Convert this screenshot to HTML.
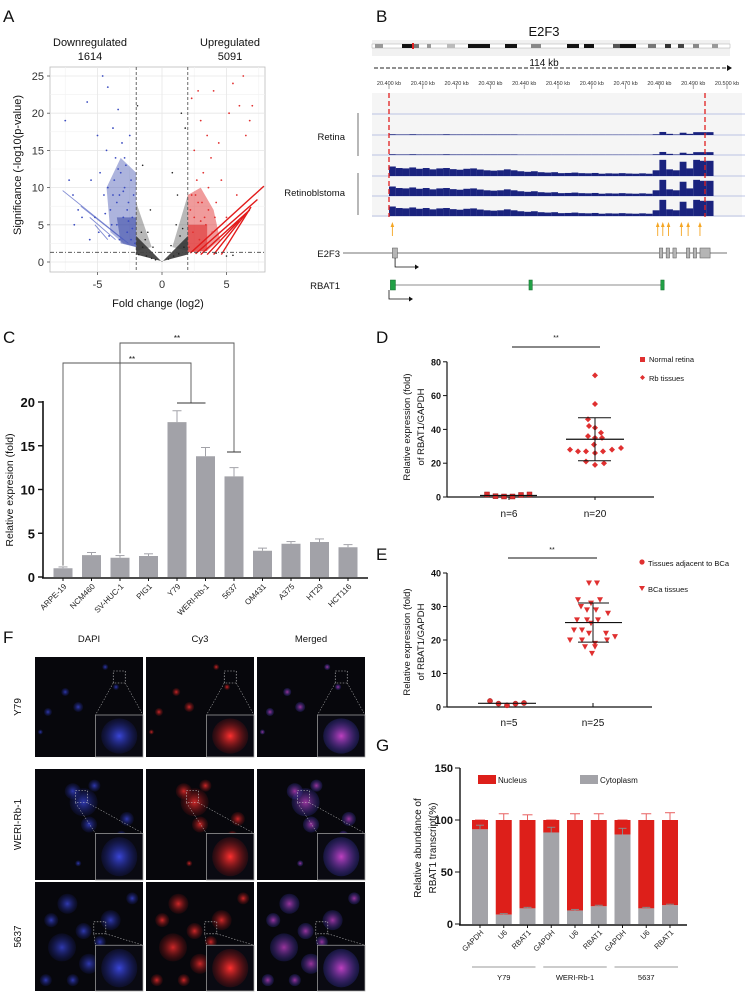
<!DOCTYPE html>
<html><head><meta charset="utf-8"><style>
html,body{margin:0;padding:0;background:#fff;}
svg{display:block;font-family:"Liberation Sans",Arial,sans-serif;}
</style></head><body>
<svg id="fig" width="745" height="992" viewBox="0 0 745 992" xmlns="http://www.w3.org/2000/svg">
<defs>
<radialGradient id="gb"><stop offset="0" stop-color="#3a46d8"/><stop offset="1" stop-color="#1a2280" stop-opacity="0.2"/></radialGradient>
<radialGradient id="gr"><stop offset="0" stop-color="#ff3030"/><stop offset="1" stop-color="#801010" stop-opacity="0.2"/></radialGradient>
<radialGradient id="gm"><stop offset="0" stop-color="#c040c0"/><stop offset="1" stop-color="#3030a0" stop-opacity="0.3"/></radialGradient>
</defs>
</svg>
<script>
// ---------- DATA ----------
// Panel A volcano
const volDown = [[-7.5,19],[-7.2,11],[-6.9,9],[-6.5,7],[-6.2,6],[-5.8,21.5],[-5.5,11],[-5.2,6],[-5,17],[-4.8,12],[-4.6,25],[-4.5,9],[-4.3,15],[-4.2,23.5],[-4,7],[-3.8,18],[-3.7,11],[-3.6,14],[-3.5,5],[-3.4,20.5],[-3.3,9],[-3.2,12],[-3.1,16],[-3,6],[-2.9,10],[-2.8,13],[-2.7,4],[-2.6,8],[-2.5,17],[-2.4,3],[-2.3,6],[-2.2,9],[-2.1,2.5],[-4.9,4],[-4.1,3.5],[-3.9,5],[-5.6,3],[-6.8,5],[-4.4,6.5],[-3.3,3],[-3.5,8],[-3.0,9.5],[-2.7,7],[-2.4,11],[-3.8,9],[-4.2,10],[-2.9,14],[-3.4,12.5],[-2.3,4.5],[-2.6,5.5]];
const volUp = [[2.1,2],[2.3,22],[2.5,15],[2.6,9],[2.8,23],[3,19],[3.2,12],[3.3,6],[3.5,17],[3.6,10],[3.8,14],[4,23],[4.2,8],[4.4,16],[4.6,11],[5,6],[5.2,20],[5.5,24],[5.8,9],[6,21],[6.3,25],[6.5,17],[6.8,19],[7,21],[2.4,4],[2.9,3],[3.4,5],[3.9,4],[2.2,7],[2.7,11],[3.1,8],[4.5,4],[2.5,6],[3.0,5.5],[3.6,7],[2.3,9],[2.8,8],[4.1,6]];
const volNs = [[-1.8,1],[-1.5,2],[-1.2,0.8],[-0.8,0.5],[-0.5,0.3],[0.5,0.4],[0.9,0.8],[1.3,1.1],[1.7,2],[1.5,20],[0.8,12],[1.2,9],[-1.5,13],[-0.9,7],[1.8,18],[-1.9,21],[1.1,5],[-1.1,4],[5,0.8],[5.5,0.9],[4.2,1.2],[-1.6,4],[-1.3,3],[1.4,3.5],[1.6,4.5],[-0.7,2],[0.7,2.2]];
const upStreaks = [[2.2,1.2,7.9,10.2],[2.6,1.1,7.4,8.4],[3,1,6.8,7],[3.5,1,6,5.6],[4,1,6.5,6.5],[4.6,1,6.9,7.4]];
const downStreaks = [[-2.6,2.5,-7.7,9.6],[-3,3,-6.3,7.5],[-3.6,3,-5.6,6],[-4.2,3,-5.2,5]];
const volXTicks = [-5,0,5];
const volYTicks = [0,5,10,15,20,25];

// Panel B coverage (relative height, 2-kb bins starting 20.400 kb)
const rbCov = [0.5,0.42,0.4,0.45,0.38,0.42,0.35,0.4,0.42,0.36,0.33,0.38,0.4,0.34,0.3,0.28,0.3,0.35,0.3,0.25,0.22,0.25,0.2,0.18,0.2,0.15,0.16,0.18,0.15,0.14,0.16,0.12,0.14,0.13,0.15,0.13,0.12,0.14,0.12,0.3,0.85,0.35,0.3,0.75,0.4,0.85,0.8,0.8];
const retCov = [0.04,0.03,0.03,0.04,0.03,0.03,0.03,0.03,0.04,0.03,0.03,0.03,0.03,0.03,0.03,0.03,0.03,0.03,0.03,0.02,0.02,0.02,0.02,0.02,0.02,0.02,0.02,0.02,0.02,0.02,0.02,0.02,0.02,0.02,0.02,0.02,0.02,0.02,0.02,0.04,0.16,0.06,0.03,0.12,0.06,0.15,0.15,0.15];
const kbTicks = [20400,20410,20420,20430,20440,20450,20460,20470,20480,20490,20500];
const e2f3Exons = [[20401,1.5],[20480,1],[20482,1],[20484,1],[20488,1],[20490,1],[20492,3]];
const rbat1Exons = [[20401,1.5],[20442,1],[20481,1]];
const arrowsKb = [20401,20479.5,20481,20482.7,20486.5,20488.5,20492];

// Panel C
const cCats = ["ARPE-19","NCM460","SV-HUC-1","PIG1","Y79","WERI-Rb-1","5637","OM431","A375","HT29","HCT116"];
const cVals = [1.0,2.5,2.2,2.4,17.7,13.8,11.5,3.0,3.8,4.0,3.4];
const cErr = [0.15,0.3,0.25,0.25,1.3,1.0,1.0,0.3,0.25,0.35,0.3];
const cTicks = [0,5,10,15,20];

// Panel D
const dNormal = [1.5,0.5,0.3,0.3,1.2,1.5];
const dRb = [72,55,46,41,42,38,36,35,35,31,28,27,27,26,27,28,29,21,20,19];
const dTicks = [0,20,40,60,80];

// Panel E
const eAdj = [1.8,1.0,0.5,1.0,1.2];
const eBCa = [37,37,32,31,32,30,29,29,28,26,26,26,25,23,22,22,23,20,20,21,20,19,18,18,16];
const eTicks = [0,10,20,30,40];

// Panel G
const gCats = ["GAPDH","U6","RBAT1","GAPDH","U6","RBAT1","GAPDH","U6","RBAT1"];
const gCyto = [91,9,15,88,13,17,86,15,18];
const gTop = [100,106,105,100,106,106,100,106,107];
const gCytoErr = [4,1,1,5,1,1,6,1,1];
const gGroups = ["Y79","WERI-Rb-1","5637"];
const gTicks = [0,50,100,150];

// ---------- HELPERS ----------
const NS='http://www.w3.org/2000/svg';
const svg=document.getElementById('fig');
function mk(tag,attrs,name,parent){
  const el=document.createElementNS(NS,tag);
  for(const k in attrs) el.setAttribute(k,attrs[k]);
  
  
  (parent||svg).appendChild(el);
  return el;
}
function txt(x,y,s,size,anchor,name,extra){
  const a={x:x,y:y,'font-size':size,'text-anchor':anchor||'start',fill:'#111'};
  if(extra) for(const k in extra) a[k]=extra[k];
  const el=mk('text',a,name);
  el.textContent=s;
  return el;
}
function ln(x1,y1,x2,y2,st,w,name,extra){
  const a={x1:x1,y1:y1,x2:x2,y2:y2,stroke:st,'stroke-width':w};
  if(extra) for(const k in extra) a[k]=extra[k];
  return mk('line',a,name);
}

// ---------- PANEL A ----------
const ax=v=>162+12.9*v, ay=v=>262-7.44*v;
txt(3,22,"A",17,'start','panel-label-a');
mk('rect',{x:50,y:67,width:215,height:205,fill:'#fff',stroke:'#bbb','stroke-width':0.8},'volcano-plot-area');
[-7.5,-2.5,2.5,7.5].forEach(v=>ln(ax(v),67,ax(v),272,'#f2f2f2',0.6,'volcano-minor-grid'));
[2.5,7.5,12.5,17.5,22.5].forEach(v=>ln(50,ay(v),265,ay(v),'#f2f2f2',0.6,'volcano-minor-grid'));
volXTicks.forEach(v=>{ln(ax(v),67,ax(v),272,'#e6e6e6',0.8,'volcano-grid-x');ln(ax(v),272,ax(v),275,'#555',0.8,'volcano-x-tick');txt(ax(v),288,String(v),11,'middle','volcano-x-tick-label',{fill:'#333'});});
volYTicks.forEach(v=>{ln(50,ay(v),265,ay(v),'#e6e6e6',0.8,'volcano-grid-y');ln(47,ay(v),50,ay(v),'#555',0.8,'volcano-y-tick');txt(44,ay(v)+4,String(v),11,'end','volcano-y-tick-label',{fill:'#333'});});
// density clouds
mk('polygon',{points:[[ax(-2),ay(3.5)],[ax(0),ay(0)],[ax(2),ay(3.5)],[ax(2),ay(1)],[ax(0),ay(0.1)],[ax(-2),ay(1)]].join(' '),fill:'#111',opacity:0.75},'ns-density');
mk('polygon',{points:[[ax(-2),ay(8)],[ax(-0.8),ay(2)],[ax(-2),ay(1.5)]].join(' '),fill:'#333',opacity:0.35},'ns-density-left');
mk('polygon',{points:[[ax(2),ay(9)],[ax(0.8),ay(2)],[ax(2),ay(1.5)]].join(' '),fill:'#333',opacity:0.35},'ns-density-right');
mk('polygon',{points:[[ax(-2),ay(2)],[ax(-2),ay(12)],[ax(-3.2),ay(14)],[ax(-4.3),ay(10)],[ax(-4),ay(4)],[ax(-3),ay(2.5)]].join(' '),fill:'#3344aa',opacity:0.4},'down-density');
mk('polygon',{points:[[ax(-2),ay(2)],[ax(-2),ay(6)],[ax(-3.5),ay(6)],[ax(-3.2),ay(2.5)]].join(' '),fill:'#2a3aa0',opacity:0.5},'down-density-core');
mk('polygon',{points:[[ax(2),ay(1.3)],[ax(2),ay(9)],[ax(3),ay(10)],[ax(4),ay(7)],[ax(4.5),ay(3)],[ax(3.5),ay(1.5)]].join(' '),fill:'#dd2222',opacity:0.45},'up-density');
mk('polygon',{points:[[ax(2),ay(1.3)],[ax(2),ay(5)],[ax(3.5),ay(5)],[ax(3.5),ay(1.5)]].join(' '),fill:'#dd2222',opacity:0.55},'up-density-core');
upStreaks.forEach(s=>ln(ax(s[0]),ay(s[1]),ax(s[2]),ay(s[3]),'#e21b1b',1.4,'up-streak'));
downStreaks.forEach(s=>ln(ax(s[0]),ay(s[1]),ax(s[2]),ay(s[3]),'#4a5ac0',0.9,'down-streak',{opacity:0.7}));
volDown.forEach(p=>mk('circle',{cx:ax(p[0]),cy:ay(p[1]),r:0.9,fill:'#3b4cc0'},'down-point'));
volUp.forEach(p=>mk('circle',{cx:ax(p[0]),cy:ay(p[1]),r:0.9,fill:'#e23030'},'up-point'));
volNs.forEach(p=>mk('circle',{cx:ax(p[0]),cy:ay(p[1]),r:0.8,fill:'#222'},'ns-point'));
ln(ax(-2),67,ax(-2),272,'#444',0.8,'fc-threshold-left',{'stroke-dasharray':'3,2'});
ln(ax(2),67,ax(2),272,'#444',0.8,'fc-threshold-right',{'stroke-dasharray':'3,2'});
ln(50,ay(1.3),265,ay(1.3),'#444',0.8,'p-threshold',{'stroke-dasharray':'4,2,1,2'});
txt(90,46,"Downregulated",11,'middle','downregulated-label');
txt(90,60,"1614",11,'middle','downregulated-count');
txt(230,46,"Upregulated",11,'middle','upregulated-label');
txt(230,60,"5091",11,'middle','upregulated-count');
txt(158,307,"Fold change (log2)",11,'middle','volcano-x-title');
txt(0,0,"Significance (-log10(p-value)",11,'middle','volcano-y-title',{transform:'translate(21,165) rotate(-90)'});

// ---------- PANEL B ----------
const bx=kb=>389+(kb-20400)*3.38;
txt(376,22,"B",17,'start','panel-label-b');
txt(544,36,"E2F3",13,'middle','locus-title');
mk('rect',{x:372,y:40,width:358,height:16,fill:'#f1f1f1'},'ideogram-bg');
mk('rect',{x:372,y:44,width:358,height:4,fill:'#fff',stroke:'#999','stroke-width':0.4},'ideogram');
[[375,8,'#999'],[402,12,'#111'],[413,6,'#777'],[427,4,'#999'],[447,8,'#bbb'],[468,14,'#111'],[482,8,'#111'],[505,12,'#111'],[531,10,'#888'],[567,12,'#111'],[584,10,'#111'],[613,10,'#555'],[620,16,'#111'],[648,8,'#777'],[665,6,'#333'],[678,6,'#444'],[693,6,'#888'],[712,6,'#999']].forEach(b=>mk('rect',{x:b[0],y:44,width:b[1],height:4,fill:b[2]},'ideogram-band'));
mk('rect',{x:412,y:43,width:2,height:6,fill:'#e02020'},'ideogram-position');
txt(544,66,"114 kb",10,'middle','span-label');
ln(374,68,727,68,'#222',1,'span-line',{'stroke-dasharray':'4,2'});
mk('polygon',{points:'727,65 732,68 727,71',fill:'#111'},'span-arrow');
kbTicks.forEach(k=>{ln(bx(k),85,bx(k),89,'#666',0.6,'kb-tick');txt(bx(k),85,(k/1000).toFixed(3)+" kb",5.5,'middle','kb-tick-label',{fill:'#333'});});
mk('rect',{x:372,y:93,width:370,height:124,fill:'#f5f5f5'},'track-area');
const trackBase=[114,135,155,176,196,216];
const trackCov=[null,retCov,retCov,rbCov,rbCov,rbCov];
trackBase.forEach((yb,t)=>{
  ln(372,yb,745,yb,'#8090d0',0.6,'track-baseline');
  const cov=trackCov[t];
  if(cov){cov.forEach((v,i)=>{const h=v*19;mk('rect',{x:bx(20400+i*2),y:yb-h,width:6.8,height:h,fill:'#1a237e'},'coverage-bar');});}
});
ln(389,93,389,217,'#e02020',1.3,'boundary-left',{'stroke-dasharray':'5,3'});
ln(705,93,705,217,'#e02020',1.3,'boundary-right',{'stroke-dasharray':'5,3'});
txt(345,140,"Retina",9.5,'end','retina-label');
ln(358,113,358,156,'#333',0.7,'retina-bracket');
txt(345,196,"Retinoblstoma",9.5,'end','retinoblastoma-label');
ln(358,173,358,215,'#333',0.7,'retinoblastoma-bracket');
arrowsKb.forEach(k=>{ln(bx(k),236,bx(k),226,'#f5a623',0.9,'peak-arrow');mk('polygon',{points:`${bx(k)-1.8},227 ${bx(k)},222 ${bx(k)+1.8},227`,fill:'#f5a623'},'peak-arrowhead');});
txt(340,257,"E2F3",9.5,'end','e2f3-label');
ln(343,253,727,253,'#444',0.8,'e2f3-gene-line');
e2f3Exons.forEach(e=>mk('rect',{x:bx(e[0]),y:248,width:e[1]*3.38,height:10,fill:'#b5b5b5',stroke:'#555','stroke-width':0.5},'e2f3-exon'));
mk('polyline',{points:`${bx(20401.8)},258 ${bx(20401.8)},267 415,267`,fill:'none',stroke:'#111','stroke-width':0.8},'e2f3-tss-arrow');
mk('polygon',{points:'415,264.5 419,267 415,269.5',fill:'#111'},'e2f3-tss-head');
txt(340,289,"RBAT1",9.5,'end','rbat1-label');
ln(391,285,bx(20481.5),285,'#666',0.8,'rbat1-gene-line');
rbat1Exons.forEach(e=>mk('rect',{x:bx(e[0])-2,y:280,width:e[1]*3.38,height:10,fill:'#22a046',stroke:'#146b2c','stroke-width':0.5},'rbat1-exon'));
mk('polyline',{points:'389,290 389,299 409,299',fill:'none',stroke:'#111','stroke-width':0.8},'rbat1-tss-arrow');
mk('polygon',{points:'409,296.5 413,299 409,301.5',fill:'#111'},'rbat1-tss-head');

// ---------- PANEL C ----------
const cx=i=>63+28.5*i, cy=v=>577-8.75*v;
txt(3,343,"C",17,'start','panel-label-c');
ln(43,cy(20)-1,43,578,'#111',1.6,'c-y-axis');
ln(42,578,368,578,'#111',1.6,'c-x-axis');
cTicks.forEach(v=>{ln(38,cy(v),43,cy(v),'#111',1.4,'c-y-tick');txt(35,cy(v)+5,String(v),13,'end','c-y-tick-label',{'font-weight':'bold'});});
cCats.forEach((c,i)=>{
  mk('rect',{x:cx(i)-9.5,y:cy(cVals[i]),width:19,height:577-cy(cVals[i]),fill:'#a2a2a8'},'bar-'+c.toLowerCase());
  ln(cx(i),cy(cVals[i]),cx(i),cy(cVals[i]+cErr[i]),'#a2a2a8',1,'c-error-bar');
  ln(cx(i)-4.5,cy(cVals[i]+cErr[i]),cx(i)+4.5,cy(cVals[i]+cErr[i]),'#a2a2a8',1,'c-error-cap');
  ln(cx(i),578,cx(i),581,'#111',1,'c-x-tick');
  txt(0,0,c,8,'end','c-x-label',{transform:`translate(${cx(i)+4},${587}) rotate(-45)`,fill:'#222'});
});
mk('polyline',{points:`${cx(0)},${cy(1.3)} ${cx(0)},363 ${191},363 191,403`,fill:'none',stroke:'#555','stroke-width':0.9},'c-bracket-1');
ln(cx(4),403,cx(5),403,'#333',1,'c-bracket-1-bar');
txt(132,362,"**",8,'middle','c-sig-1');
mk('polyline',{points:`${cx(2)},${cy(2.7)} ${cx(2)},343 ${cx(6)},343 ${cx(6)},452`,fill:'none',stroke:'#555','stroke-width':0.9},'c-bracket-2');
ln(cx(6)-7,452,cx(6)+7,452,'#333',1,'c-bracket-2-bar');
txt(177,341,"**",8,'middle','c-sig-2');
txt(0,0,"Relative  expresion (fold)",10.5,'middle','c-y-title',{transform:'translate(13,490) rotate(-90)'});

// ---------- PANEL D ----------
const dy=v=>497-1.69*v;
txt(376,343,"D",17,'start','panel-label-d');
ln(447,dy(80),447,497,'#111',1.2,'d-y-axis');
ln(447,497,654,497,'#111',1.2,'d-x-axis');
dTicks.forEach(v=>{ln(443,dy(v),447,dy(v),'#111',1,'d-y-tick');txt(441,dy(v)+3.5,String(v),9,'end','d-y-tick-label',{'font-weight':'bold'});});
ln(509,497,509,500,'#111',1,'d-x-tick');ln(595,497,595,500,'#111',1,'d-x-tick');
txt(509,517,"n=6",10,'middle','d-group-normal');
txt(595,517,"n=20",10,'middle','d-group-rb');
ln(512,347,600,347,'#111',0.9,'d-sig-line');
txt(556,340,"**",7,'middle','d-sig');
const dMeanN=dNormal.reduce((a,b)=>a+b,0)/dNormal.length;
const dMeanR=dRb.reduce((a,b)=>a+b,0)/dRb.length;
const dSdR=Math.sqrt(dRb.reduce((a,b)=>a+(b-dMeanR)**2,0)/(dRb.length-1));
dNormal.forEach((v,i)=>mk('rect',{x:487+i*8.5-2.5,y:dy(v)-2.5,width:5,height:5,fill:'#e03030',stroke:'#8a1010','stroke-width':0.4},'d-normal-point'));
ln(480,dy(dMeanN),537,dy(dMeanN),'#111',1.2,'d-normal-mean');
const dOff=[0,0,-7,0,-6,6,-7,0,7,-1,-25,-17,-9,0,8,17,26,-9,9,0];
dRb.forEach((v,i)=>{const x=595+dOff[i];const y=dy(v);mk('polygon',{points:`${x},${y-3} ${x+3},${y} ${x},${y+3} ${x-3},${y}`,fill:'#e03030'},'d-rb-point');});
ln(566,dy(dMeanR),624,dy(dMeanR),'#111',1.2,'d-rb-mean');
ln(595,dy(dMeanR-dSdR),595,dy(dMeanR+dSdR),'#111',1,'d-rb-sd');
ln(578,dy(dMeanR+dSdR),611,dy(dMeanR+dSdR),'#111',1,'d-rb-sd-top');
ln(578,dy(dMeanR-dSdR),611,dy(dMeanR-dSdR),'#111',1,'d-rb-sd-bottom');
mk('rect',{x:640,y:357,width:5,height:5,fill:'#e03030'},'d-legend-normal-swatch');
txt(649,362,"Normal retina",7.5,'start','d-legend-normal');
mk('polygon',{points:'642.5,375 645,377.5 642.5,380 640,377.5',fill:'#e03030'},'d-legend-rb-swatch');
txt(649,381,"Rb tissues",7.5,'start','d-legend-rb');
txt(0,0,"Relative expression (fold)",9.5,'middle','d-y-title-1',{transform:'translate(410,427) rotate(-90)'});
txt(0,0,"of RBAT1/GAPDH",9.5,'middle','d-y-title-2',{transform:'translate(424,427) rotate(-90)'});

// ---------- PANEL E ----------
const ey=v=>707-3.35*v;
txt(376,560,"E",17,'start','panel-label-e');
ln(447,ey(40),447,707,'#111',1.2,'e-y-axis');
ln(447,707,652,707,'#111',1.2,'e-x-axis');
eTicks.forEach(v=>{ln(443,ey(v),447,ey(v),'#111',1,'e-y-tick');txt(441,ey(v)+3.5,String(v),9,'end','e-y-tick-label',{'font-weight':'bold'});});
ln(593,707,593,703,'#111',1,'e-x-tick');
txt(509,726,"n=5",10,'middle','e-group-adjacent');
txt(593,726,"n=25",10,'middle','e-group-bca');
ln(508,558,597,558,'#111',0.9,'e-sig-line');
txt(552,552,"**",7,'middle','e-sig');
const eMeanA=eAdj.reduce((a,b)=>a+b,0)/eAdj.length;
const eMeanB=eBCa.reduce((a,b)=>a+b,0)/eBCa.length;
const eSdB=Math.sqrt(eBCa.reduce((a,b)=>a+(b-eMeanB)**2,0)/(eBCa.length-1));
eAdj.forEach((v,i)=>mk('circle',{cx:490+i*8.5,cy:ey(v),r:2.6,fill:'#e03030',stroke:'#8a1010','stroke-width':0.4},'e-adjacent-point'));
ln(478,ey(eMeanA),536,ey(eMeanA),'#111',1.2,'e-adjacent-mean');
const eOff=[-4,4,-15,-2,7,-12,-6,3,15,-16,-6,5,-2,-11,-4,13,-19,-23,-11,22,14,2,-8,2,-1];
eBCa.forEach((v,i)=>{const x=593+eOff[i];const y=ey(v);mk('polygon',{points:`${x-3},${y-2.5} ${x+3},${y-2.5} ${x},${y+3}`,fill:'#e03030'},'e-bca-point');});
ln(565,ey(eMeanB),622,ey(eMeanB),'#111',1.2,'e-bca-mean');
ln(593,ey(eMeanB-eSdB),593,ey(eMeanB+eSdB),'#111',1,'e-bca-sd');
ln(578,ey(eMeanB+eSdB),609,ey(eMeanB+eSdB),'#111',1,'e-bca-sd-top');
ln(578,ey(eMeanB-eSdB),609,ey(eMeanB-eSdB),'#111',1,'e-bca-sd-bottom');
mk('circle',{cx:642,cy:562,r:2.6,fill:'#e03030'},'e-legend-adjacent-swatch');
txt(648,566,"Tissues adjacent to BCa",7.5,'start','e-legend-adjacent');
mk('polygon',{points:'639,586 645,586 642,591',fill:'#e03030'},'e-legend-bca-swatch');
txt(648,592,"BCa tissues",7.5,'start','e-legend-bca');
txt(0,0,"Relative expression (fold)",9.5,'middle','e-y-title-1',{transform:'translate(410,642) rotate(-90)'});
txt(0,0,"of RBAT1/GAPDH",9.5,'middle','e-y-title-2',{transform:'translate(424,642) rotate(-90)'});

// ---------- PANEL G ----------
const gx=i=>480+23.75*i, gy=v=>924-1.04*v;
txt(376,751,"G",17,'start','panel-label-g');
ln(460,gy(150),460,925,'#111',1.4,'g-y-axis');
ln(459,925,687,925,'#111',1.4,'g-x-axis');
gTicks.forEach(v=>{ln(455,gy(v),460,gy(v),'#111',1,'g-y-tick');txt(453,gy(v)+4,String(v),11,'end','g-y-tick-label',{'font-weight':'bold'});});
gCats.forEach((c,i)=>{
  ln(gx(i),gy(100),gx(i),gy(gTop[i]),'#e86060',1,'g-nucleus-error');
  ln(gx(i)-5,gy(gTop[i]),gx(i)+5,gy(gTop[i]),'#e86060',1,'g-nucleus-error-cap');
  mk('rect',{x:gx(i)-8,y:gy(100),width:16,height:gy(gCyto[i])-gy(100),fill:'#dd1f1a'},'g-nucleus-bar');
  mk('rect',{x:gx(i)-8,y:gy(gCyto[i]),width:16,height:924-gy(gCyto[i]),fill:'#a3a3a8'},'g-cytoplasm-bar');
  ln(gx(i),gy(gCyto[i]),gx(i),gy(gCyto[i]+gCytoErr[i]),'#888',1,'g-cyto-error');
  ln(gx(i)-4,gy(gCyto[i]+gCytoErr[i]),gx(i)+4,gy(gCyto[i]+gCytoErr[i]),'#888',1,'g-cyto-error-cap');
  ln(gx(i),925,gx(i),928,'#111',1,'g-x-tick');
  txt(0,0,c,7.5,'end','g-x-label',{transform:`translate(${gx(i)+4},${933}) rotate(-45)`,fill:'#222'});
});
gGroups.forEach((g,k)=>{const x0=gx(k*3)-8,x1=gx(k*3+2)+8;ln(x0,967,x1,967,'#999',1,'g-group-line');txt((x0+x1)/2,980,g,7.5,'middle','g-group-label');});
mk('rect',{x:478,y:775,width:18,height:9,fill:'#dd1f1a'},'g-legend-nucleus-swatch');
txt(498,783,"Nucleus",8,'start','g-legend-nucleus');
mk('rect',{x:580,y:775,width:18,height:9,fill:'#a3a3a8'},'g-legend-cytoplasm-swatch');
txt(600,783,"Cytoplasm",8,'start','g-legend-cytoplasm');
txt(0,0,"Relative  abundance of",10,'middle','g-y-title-1',{transform:'translate(421,848) rotate(-90)'});
txt(0,0,"RBAT1 transcript(%)",10,'middle','g-y-title-2',{transform:'translate(436,848) rotate(-90)'});

// ---------- PANEL F (micrographs) ----------
txt(3,643,"F",17,'start','panel-label-f');
const cols=[35,146,257], colW=108;
const rows=[[657,100],[769,111],[882,109]];
const colNames=["DAPI","Cy3","Merged"], rowNames=["Y79","WERI-Rb-1","5637"];
const fills=['url(#gb)','url(#gr)','url(#gm)'];
colNames.forEach((n,c)=>txt(cols[c]+colW/2,642,n,9.5,'middle','f-col-'+n.toLowerCase()));
const blobs=[
 [[0.75,0.3,3],[0.28,0.35,4],[0.4,0.5,5],[0.12,0.55,4],[0.65,0.1,3],[0.05,0.75,2.5]],
 [[0.45,0.3,14],[0.35,0.2,8],[0.85,0.45,7],[0.5,0.5,8],[0.4,0.85,3],[0.55,0.15,6],[0.8,0.6,5]],
 [[0.3,0.2,10],[0.25,0.6,14],[0.5,0.75,10],[0.7,0.35,10],[0.9,0.15,6],[0.1,0.9,6],[0.6,0.55,6],[0.15,0.35,7],[0.45,0.45,8],[0.35,0.9,6]]
];
const insets=[[0.78,0.2],[0.43,0.25],[0.6,0.42]];
rows.forEach((r,ri)=>{
  txt(0,0,rowNames[ri],10,'middle','f-row-label',{transform:`translate(21,${r[0]+r[1]/2}) rotate(-90)`});
  cols.forEach((cx0,ci)=>{
    mk('rect',{x:cx0,y:r[0],width:colW,height:r[1],fill:'#07070c'},'micrograph');
    blobs[ri].forEach(b=>mk('circle',{cx:cx0+b[0]*colW,cy:r[0]+b[1]*r[1],r:b[2],fill:fills[ci],opacity:0.8},'cell-cluster'));
    const ix=cx0+colW*0.56, iy=r[0]+r[1]*0.58, iw=colW*0.44, ih=r[1]*0.42;
    mk('rect',{x:ix,y:iy,width:iw,height:ih,fill:'#0a0a12',stroke:'#aaa','stroke-width':0.7},'zoom-inset');
    mk('ellipse',{cx:ix+iw*0.5,cy:iy+ih*0.5,rx:iw*0.38,ry:ih*0.42,fill:fills[ci]},'inset-cell');
    const sx=cx0+insets[ri][0]*colW, sy=r[0]+insets[ri][1]*r[1];
    mk('rect',{x:sx-6,y:sy-6,width:12,height:12,fill:'none',stroke:'#ccc','stroke-width':0.6,'stroke-dasharray':'1.5,1.5'},'zoom-region');
    ln(sx-6,sy+6,ix,iy,'#ccc',0.5,'zoom-guide',{'stroke-dasharray':'1.5,1.5'});
    ln(sx+6,sy+6,ix+iw,iy,'#ccc',0.5,'zoom-guide',{'stroke-dasharray':'1.5,1.5'});
  });
});
</script>
</body></html>
